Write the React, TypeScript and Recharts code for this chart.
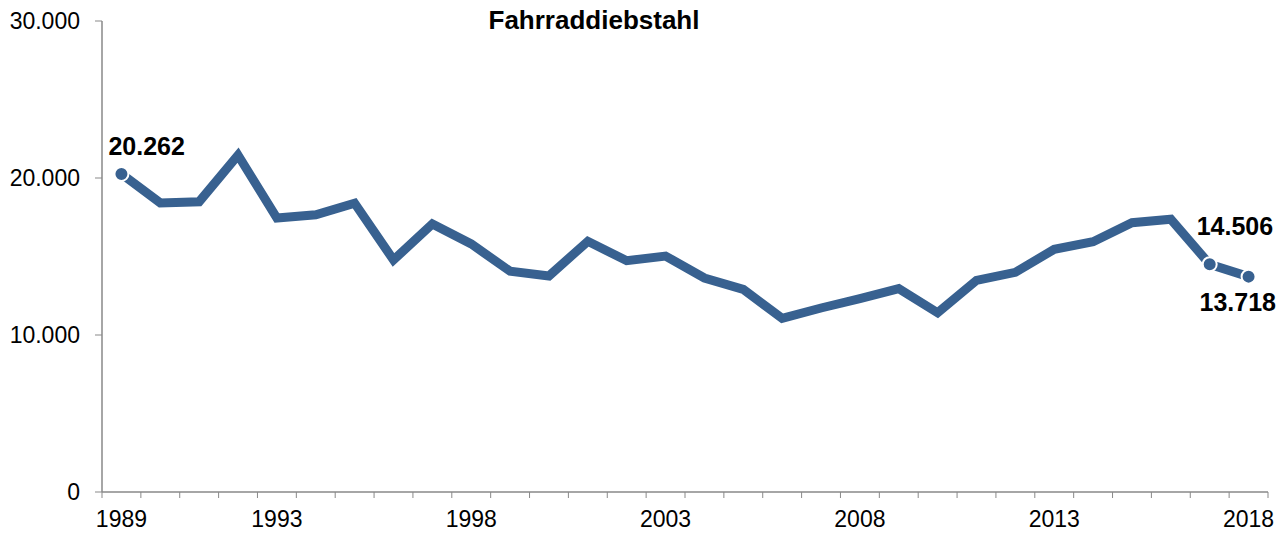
import { LineChart, Line, XAxis, YAxis, LabelList } from 'recharts';

const YEARS = [
  1989, 1990, 1991, 1992, 1993, 1994, 1995, 1996, 1997, 1998,
  1999, 2000, 2001, 2002, 2003, 2004, 2005, 2006, 2007, 2008,
  2009, 2010, 2011, 2012, 2013, 2014, 2015, 2016, 2017, 2018,
];

const THEFTS = [
  20262, 18410, 18490, 21450, 17450, 17660, 18390, 14780, 17070, 15800,
  14060, 13760, 15970, 14730, 15030, 13630, 12910, 11060, 11720, 12310,
  12950, 11420, 13480, 13990, 15460, 15940, 17150, 17370, 14506, 13718,
];

const LABELED_YEARS = [1989, 1993, 1998, 2003, 2008, 2013, 2018];
const Y_TICKS = [0, 10000, 20000, 30000];
const HIGHLIGHT = [0, 28, 29];

const TITLE = 'Fahrraddiebstahl';

const W = 1278;
const H = 533;
const PLOT_LEFT = 102;
const PLOT_RIGHT = 1268;
const AXIS_Y = 492;
const HALF_BAND = (PLOT_RIGHT - PLOT_LEFT) / YEARS.length / 2;
const LINE_COLOR = '#386190';
const AXIS_COLOR = '#898989';
const FONT = '"Liberation Sans", Arial, sans-serif';

const data = YEARS.map((year, i) => ({ year, value: THEFTS[i] }));

const fmt = (v: number) => String(v).replace(/\B(?=(\d{3})+(?!\d))/g, '.');

function YearTick(props: any) {
  const { x, payload, index } = props;
  const last = index === YEARS.length - 1;
  return (
    <g>
      <line x1={x - HALF_BAND} x2={x - HALF_BAND} y1={AXIS_Y} y2={AXIS_Y + 6} stroke={AXIS_COLOR} />
      {last && <line x1={x + HALF_BAND} x2={x + HALF_BAND} y1={AXIS_Y} y2={AXIS_Y + 6} stroke={AXIS_COLOR} />}
      {LABELED_YEARS.includes(payload.value) && (
        <text x={x} y={527} textAnchor="middle" fontSize={23} fill="#000" fontFamily={FONT}>
          {payload.value}
        </text>
      )}
    </g>
  );
}

function EndDot(props: any) {
  const { cx, cy, index } = props;
  if (!HIGHLIGHT.includes(index)) return <g key={index} />;
  return <circle key={index} cx={cx} cy={cy} r={7} fill={LINE_COLOR} stroke="#fff" strokeWidth={2} />;
}

const LABEL_OFFSETS: Record<number, [number, number]> = {
  0: [-13, -19],
  28: [-13, -29],
  29: [-49, 34],
};

function PointLabel(props: any) {
  const { x, y, value, index } = props;
  const off = LABEL_OFFSETS[index];
  if (!off) return null;
  return (
    <text x={x + off[0]} y={y + off[1]} textAnchor="start" fontSize={25} fontWeight="bold" fill="#000" fontFamily={FONT}>
      {fmt(value)}
    </text>
  );
}

export default function App() {
  return (
    <div style={{ position: 'absolute', left: 0, top: 0, width: W, height: H, background: '#fff', fontFamily: FONT, overflow: 'hidden' }}>
      <div style={{ position: 'absolute', left: 0, width: 1188, top: 5, textAlign: 'center', fontSize: 26, fontWeight: 'bold', color: '#000' }}>
        {TITLE}
      </div>
      <LineChart width={W} height={H} data={data} margin={{ top: 21, right: W - PLOT_RIGHT, left: 0, bottom: 0 }}>
        <XAxis
          dataKey="year"
          type="category"
          interval={0}
          height={H - AXIS_Y}
          padding={{ left: HALF_BAND, right: HALF_BAND }}
          tickLine={false}
          axisLine={{ stroke: AXIS_COLOR, strokeWidth: 1.5 }}
          tick={<YearTick />}
        />
        <YAxis
          domain={[0, 30000]}
          ticks={Y_TICKS}
          width={PLOT_LEFT}
          tickSize={7}
          tickMargin={15}
          tickFormatter={fmt}
          axisLine={{ stroke: AXIS_COLOR, strokeWidth: 1.5 }}
          tickLine={{ stroke: AXIS_COLOR }}
          tick={{ fill: '#000', fontSize: 23, fontFamily: FONT }}
        />
        <Line
          type="linear"
          dataKey="value"
          stroke={LINE_COLOR}
          strokeWidth={9}
          dot={<EndDot />}
          activeDot={false}
          isAnimationActive={false}
        >
          <LabelList dataKey="value" content={<PointLabel />} />
        </Line>
      </LineChart>
    </div>
  );
}
